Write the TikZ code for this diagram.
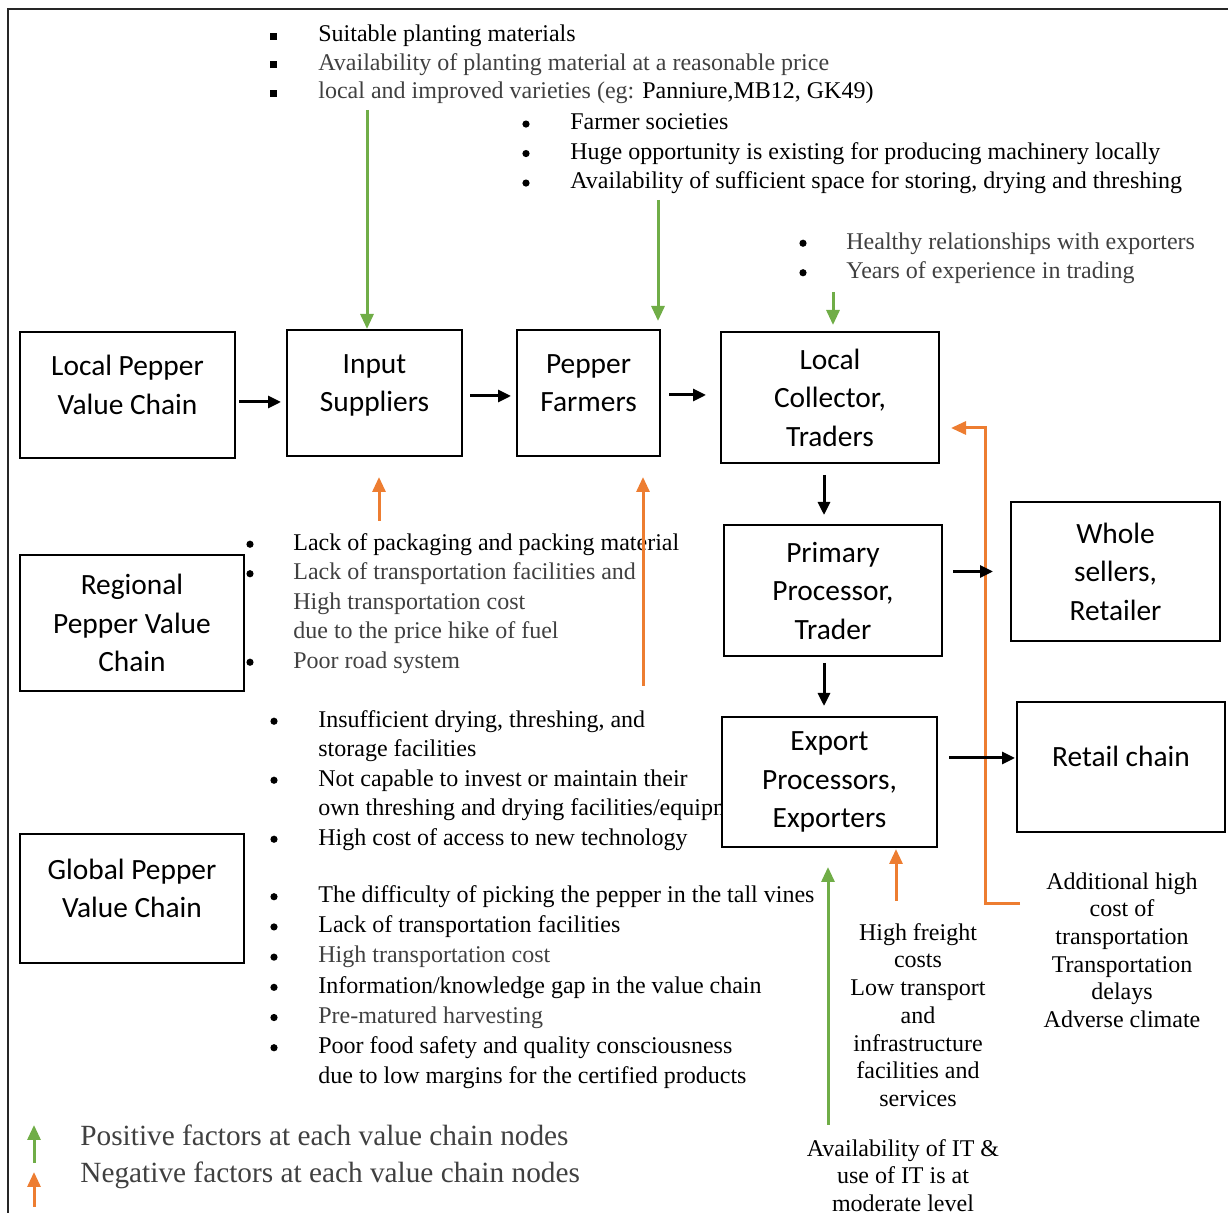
\documentclass[tikz,border=0pt]{standalone}
\usepackage{fontspec}
\setmainfont{Liberation Serif}
\newfontfamily\calib{Carlito}
\usetikzlibrary{arrows.meta,calc}

\definecolor{posgreen}{RGB}{112,173,71}
\definecolor{negorange}{RGB}{237,125,49}
\definecolor{txtgray}{RGB}{64,64,64}

% bullets of the factor lists
\newcommand{\sqb}{\rule[1pt]{3.5pt}{3.5pt}}
\newcommand{\rdb}{\tikz[baseline=0pt]\fill[black] (0,2.9pt) circle (1.8pt);}

\begin{document}
\begin{tikzpicture}[
    x=0.5pt, y=-0.5pt,
    box/.style={draw,line width=1pt,fill=white,align=center,inner sep=0pt,font=\calib\fontsize{14.7}{19.25}\selectfont},
    lst/.style={anchor=north west,inner sep=0pt,font=\fontsize{12}{14.75}\selectfont},
    ctr/.style={anchor=north,inner sep=0pt,align=center,font=\fontsize{12}{13.85}\selectfont},
    flow/.style={line width=1.5pt,-{Triangle[length=6.5pt,width=6pt]}},
    posarr/.style={color=posgreen,line width=1.5pt,-{Triangle[length=7.5pt,width=6.5pt]}},
    negarr/.style={color=negorange,line width=1.5pt,-{Triangle[length=7.5pt,width=6.5pt]}},
    legtxt/.style={anchor=west,inner sep=0pt,text=txtgray,font=\fontsize{14.65}{17}\selectfont,text height=9.9pt,text depth=3.2pt},
]
\useasboundingbox (0,0) rectangle (1228,1213);
\draw[line width=1.2pt,black!85] (8,1213) -- (8,9) -- (1228,9);

% ================= factor lists =================
\node[lst,font=\fontsize{12}{14.25}\selectfont] (lstA) at (270,21.4) {\begin{tabular}{@{}p{24pt}@{}l@{}}
\sqb & Suitable planting materials\\
\sqb & \color{txtgray}Availability of planting material at a reasonable price\\
\sqb & {\color{txtgray}local and improved varieties (eg:} Panniure,MB12, GK49)
\end{tabular}};
\node[lst] (lstB) at (522,108.8) {\begin{tabular}{@{}p{24pt}@{}l@{}}
\rdb & Farmer societies\\
\rdb & Huge opportunity is existing for producing machinery locally\\
\rdb & Availability of sufficient space for storing, drying and threshing
\end{tabular}};
\node[lst,text=txtgray] (lstC) at (799,228) {\begin{tabular}{@{}p{23.5pt}@{}l@{}}
\rdb & Healthy relationships with exporters\\
\rdb & Years of experience in trading
\end{tabular}};
\node[lst] (lstD) at (246,529) {\begin{tabular}{@{}p{23.5pt}@{}l@{}}
\rdb & Lack of packaging and packing material\\
\rdb & \color{txtgray}Lack of transportation facilities and\\
 & \color{txtgray}High transportation cost\\
 & \color{txtgray}due to the price hike of fuel\\
\rdb & \color{txtgray}Poor road system
\end{tabular}};
\node[lst] (lstE) at (270,706) {\begin{tabular}{@{}p{24pt}@{}l@{}}
\rdb & Insufficient drying, threshing, and\\
 & storage facilities\\
\rdb & Not capable to invest or maintain their\\
 & own threshing and drying facilities/equipment\\
\rdb & High cost of access to new technology
\end{tabular}};
\node[lst,font=\fontsize{12}{15.1}\selectfont] (lstF) at (270,881) {\begin{tabular}{@{}p{24pt}@{}l@{}}
\rdb & The difficulty of picking the pepper in the tall vines\\
\rdb & Lack of transportation facilities\\
\rdb & \color{txtgray}High transportation cost\\
\rdb & Information/knowledge gap in the value chain\\
\rdb & \color{txtgray}Pre-matured harvesting\\
\rdb & Poor food safety and quality consciousness\\
 & due to low margins for the certified products
\end{tabular}};
\node[ctr] (expneg) at (918,923) {High freight\\costs\\Low transport\\and\\infrastructure\\facilities and\\services};
\node[ctr] (trneg) at (1122,872) {Additional high\\cost of\\transportation\\Transportation\\delays\\Adverse climate};
\node[ctr] (itpos) at (903,1139) {Availability of IT \&\\use of IT is at\\moderate level};

% ================= value chain boxes =================
\node[box,minimum width=107.5pt,minimum height=63pt] (loc) at (127.5,395) {Local Pepper\\Value Chain\\[-9.25pt]};
\node[box,minimum width=87.5pt,minimum height=63pt] (inp) at (374.5,393) {Input\\Suppliers\\[-9.25pt]};
\node[box,minimum width=71.5pt,minimum height=63pt] (frm) at (588.5,393) {Pepper\\Farmers\\[-9.25pt]};
\node[box,minimum width=109pt,minimum height=65.5pt] (col) at (830,397.5) {Local\\Collector,\\Traders};
\node[box,minimum width=109pt,minimum height=65.5pt] (pri) at (833,590.5) {Primary\\Processor,\\Trader};
\node[box,minimum width=104.5pt,minimum height=69.5pt] (whl) at (1115.5,571.5) {Whole\\sellers,\\Retailer};
\node[box,minimum width=107.5pt,minimum height=65pt] (exp) at (829.5,782) {Export\\Processors,\\Exporters};
\node[box,minimum width=104pt,minimum height=65pt] (ret) at (1121,767) {Retail chain\\[-8.25pt]};
\node[box,minimum width=112pt,minimum height=68pt] (reg) at (132,623) {Regional\\Pepper Value\\Chain};
\node[box,minimum width=112pt,minimum height=64.5pt] (glb) at (132,898.5) {Global Pepper\\Value Chain\\[-9.25pt]};

% ================= positive / negative factors =================
\coordinate (gA) at (367,110);
\coordinate (gB) at (658,200);
\coordinate (gC) at (833,292);
\coordinate (gD) at (828,1125);
\coordinate (oA) at (379,521);
\coordinate (oB) at (643,686);
\coordinate (oC) at (896,901);
\coordinate (oD) at (1020,904);
\draw[posarr] (gA) -- (gA |- inp.north);
\draw[posarr,shorten >=4pt] (gB) -- (gB |- frm.north);
\draw[posarr,shorten >=3pt] (gC) -- (gC |- col.north);
\draw[posarr,shorten >=9.5pt] (gD) -- (gD |- exp.south);
\draw[negarr,shorten >=10pt] (oA) -- (oA |- inp.south);
\draw[negarr,shorten >=10pt] (oB) -- (oB |- frm.south);
\draw[negarr,shorten >=0.5pt] (oC) -- (oC |- exp.south);
\draw[negarr] (oD) -- ++(-35,0) |- ([shift={(5.5pt,-15.25pt)}]col.east);

% ================= flow of the chain =================
\draw[flow,shorten <=1.5pt,shorten >=2.5pt] ([yshift=-3.5pt]loc.east) -- ([yshift=-3.5pt]loc.east -| inp.west);
\draw[flow,shorten <=3.5pt,shorten >=2.5pt] ([yshift=-1.5pt]inp.east) -- ([yshift=-1.5pt]inp.east -| frm.west);
\draw[flow,shorten <=4pt,shorten >=7pt] ([yshift=-1pt]frm.east) -- ([yshift=-1pt]frm.east -| col.west);
\draw[flow,shorten <=5.5pt,shorten >=4.5pt] ([xshift=-3pt]col.south) -- ([xshift=-3pt]col.south |- pri.north);
\draw[flow,shorten <=5pt,shorten >=8.5pt] (pri.east |- whl.west) -- (whl.west);
\draw[flow,shorten <=3pt,shorten >=5pt] ([xshift=-4.5pt]pri.south) -- ([xshift=-4.5pt]pri.south |- exp.north);
\draw[flow,shorten <=5.5pt,shorten >=0.5pt] ([yshift=4.5pt]ret.west -| exp.east) -- ([yshift=4.5pt]ret.west);

% ================= legend =================
\node[legtxt] (lgpos) at (80,1139) {Positive factors at each value chain nodes};
\node[legtxt] (lgneg) at (80,1176) {Negative factors at each value chain nodes};
\coordinate (lgA) at (34,1163);
\coordinate (lgB) at (34,1207);
\draw[posarr] (lgA) -- ++(0,-38);
\draw[negarr] (lgB) -- ++(0,-35);
\end{tikzpicture}
\end{document}
